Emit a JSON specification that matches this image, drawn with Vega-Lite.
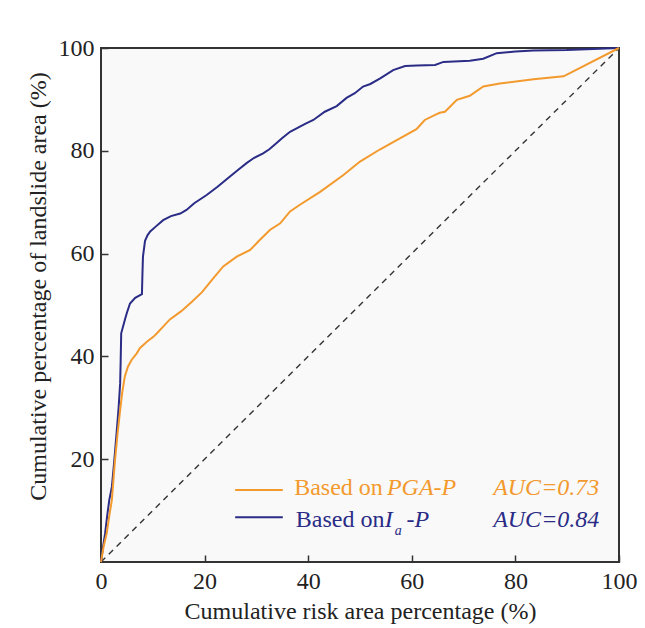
{
  "$schema": "https://vega.github.io/schema/vega-lite/v6.json",
  "width": 518,
  "height": 514,
  "autosize": "none",
  "padding": {"left": 101, "top": 48, "right": 26, "bottom": 66},
  "background": "white",
  "datasets": {
    "curves": [
      {"series": "Ia-P", "x": 0, "y": 0}, {"series": "Ia-P", "x": 0.4, "y": 3}, {"series": "Ia-P", "x": 0.8, "y": 5.6}, {"series": "Ia-P", "x": 1.2, "y": 9}, {"series": "Ia-P", "x": 1.6, "y": 12.1}, {"series": "Ia-P", "x": 2.1, "y": 14.6}, {"series": "Ia-P", "x": 2.5, "y": 19}, {"series": "Ia-P", "x": 3.0, "y": 25}, {"series": "Ia-P", "x": 3.4, "y": 30}, {"series": "Ia-P", "x": 3.7, "y": 34.8}, {"series": "Ia-P", "x": 3.8, "y": 39.3}, {"series": "Ia-P", "x": 3.9, "y": 44.5}, {"series": "Ia-P", "x": 4.6, "y": 47.1}, {"series": "Ia-P", "x": 5.0, "y": 48.5}, {"series": "Ia-P", "x": 5.6, "y": 50.3}, {"series": "Ia-P", "x": 6.6, "y": 51.4}, {"series": "Ia-P", "x": 7.9, "y": 52.1}, {"series": "Ia-P", "x": 8.0, "y": 56}, {"series": "Ia-P", "x": 8.1, "y": 59.4}, {"series": "Ia-P", "x": 8.5, "y": 62.5}, {"series": "Ia-P", "x": 9.0, "y": 63.6}, {"series": "Ia-P", "x": 9.5, "y": 64.3}, {"series": "Ia-P", "x": 10.5, "y": 65.2}, {"series": "Ia-P", "x": 12.0, "y": 66.5}, {"series": "Ia-P", "x": 13.5, "y": 67.3}, {"series": "Ia-P", "x": 15.3, "y": 67.8}, {"series": "Ia-P", "x": 16.5, "y": 68.5}, {"series": "Ia-P", "x": 18.0, "y": 69.8}, {"series": "Ia-P", "x": 20.4, "y": 71.4}, {"series": "Ia-P", "x": 22.5, "y": 73.0}, {"series": "Ia-P", "x": 24.9, "y": 75.0}, {"series": "Ia-P", "x": 26.5, "y": 76.3}, {"series": "Ia-P", "x": 28.1, "y": 77.6}, {"series": "Ia-P", "x": 29.5, "y": 78.6}, {"series": "Ia-P", "x": 31.3, "y": 79.5}, {"series": "Ia-P", "x": 32.5, "y": 80.3}, {"series": "Ia-P", "x": 33.9, "y": 81.5}, {"series": "Ia-P", "x": 35.0, "y": 82.5}, {"series": "Ia-P", "x": 36.5, "y": 83.7}, {"series": "Ia-P", "x": 38.4, "y": 84.7}, {"series": "Ia-P", "x": 39.5, "y": 85.3}, {"series": "Ia-P", "x": 41.0, "y": 86.0}, {"series": "Ia-P", "x": 43.2, "y": 87.6}, {"series": "Ia-P", "x": 45.5, "y": 88.7}, {"series": "Ia-P", "x": 47.4, "y": 90.3}, {"series": "Ia-P", "x": 49.0, "y": 91.2}, {"series": "Ia-P", "x": 50.6, "y": 92.5}, {"series": "Ia-P", "x": 52.0, "y": 93.0}, {"series": "Ia-P", "x": 53.9, "y": 94.1}, {"series": "Ia-P", "x": 56.4, "y": 95.7}, {"series": "Ia-P", "x": 58.7, "y": 96.5}, {"series": "Ia-P", "x": 61.0, "y": 96.6}, {"series": "Ia-P", "x": 64.5, "y": 96.7}, {"series": "Ia-P", "x": 66.1, "y": 97.3}, {"series": "Ia-P", "x": 71.2, "y": 97.5}, {"series": "Ia-P", "x": 73.8, "y": 97.9}, {"series": "Ia-P", "x": 76.4, "y": 99.0}, {"series": "Ia-P", "x": 80.0, "y": 99.3}, {"series": "Ia-P", "x": 83.5, "y": 99.5}, {"series": "Ia-P", "x": 89.9, "y": 99.6}, {"series": "Ia-P", "x": 95.0, "y": 99.8}, {"series": "Ia-P", "x": 100, "y": 100},
      {"series": "PGA-P", "x": 0, "y": 0}, {"series": "PGA-P", "x": 0.5, "y": 3}, {"series": "PGA-P", "x": 1.1, "y": 5.6}, {"series": "PGA-P", "x": 1.6, "y": 9}, {"series": "PGA-P", "x": 2.1, "y": 12.1}, {"series": "PGA-P", "x": 2.4, "y": 16}, {"series": "PGA-P", "x": 2.7, "y": 19.8}, {"series": "PGA-P", "x": 3.2, "y": 25}, {"series": "PGA-P", "x": 3.7, "y": 29.6}, {"series": "PGA-P", "x": 4.1, "y": 33}, {"series": "PGA-P", "x": 4.6, "y": 36.1}, {"series": "PGA-P", "x": 5.2, "y": 38}, {"series": "PGA-P", "x": 5.9, "y": 39.3}, {"series": "PGA-P", "x": 6.9, "y": 40.6}, {"series": "PGA-P", "x": 7.5, "y": 41.6}, {"series": "PGA-P", "x": 8.8, "y": 42.8}, {"series": "PGA-P", "x": 10.1, "y": 43.8}, {"series": "PGA-P", "x": 10.8, "y": 44.5}, {"series": "PGA-P", "x": 12.0, "y": 45.8}, {"series": "PGA-P", "x": 13.3, "y": 47.2}, {"series": "PGA-P", "x": 15.5, "y": 48.8}, {"series": "PGA-P", "x": 17.5, "y": 50.6}, {"series": "PGA-P", "x": 19.5, "y": 52.5}, {"series": "PGA-P", "x": 21.5, "y": 55.0}, {"series": "PGA-P", "x": 23.6, "y": 57.5}, {"series": "PGA-P", "x": 26.2, "y": 59.4}, {"series": "PGA-P", "x": 28.8, "y": 60.7}, {"series": "PGA-P", "x": 30.5, "y": 62.5}, {"series": "PGA-P", "x": 32.6, "y": 64.6}, {"series": "PGA-P", "x": 34.6, "y": 65.9}, {"series": "PGA-P", "x": 36.5, "y": 68.2}, {"series": "PGA-P", "x": 38.4, "y": 69.5}, {"series": "PGA-P", "x": 42.3, "y": 72.0}, {"series": "PGA-P", "x": 46.8, "y": 75.3}, {"series": "PGA-P", "x": 50.0, "y": 77.9}, {"series": "PGA-P", "x": 53.9, "y": 80.3}, {"series": "PGA-P", "x": 57.7, "y": 82.4}, {"series": "PGA-P", "x": 60.9, "y": 84.2}, {"series": "PGA-P", "x": 62.5, "y": 86.0}, {"series": "PGA-P", "x": 64.5, "y": 87.0}, {"series": "PGA-P", "x": 65.4, "y": 87.4}, {"series": "PGA-P", "x": 66.4, "y": 87.6}, {"series": "PGA-P", "x": 68.7, "y": 89.9}, {"series": "PGA-P", "x": 71.2, "y": 90.7}, {"series": "PGA-P", "x": 73.8, "y": 92.5}, {"series": "PGA-P", "x": 77.0, "y": 93.1}, {"series": "PGA-P", "x": 83.5, "y": 93.9}, {"series": "PGA-P", "x": 89.3, "y": 94.5}, {"series": "PGA-P", "x": 100, "y": 100}
    ],
    "diagonal": [{"x": 0, "y": 0}, {"x": 100, "y": 100}],
    "keys": [
      {"series": "PGA-P", "x": 25.9, "x2": 35.1, "y": 14.0},
      {"series": "Ia-P", "x": 25.9, "x2": 35.1, "y": 8.7}
    ],
    "normalText": [
      {"series": "PGA-P", "x": 37.3, "y": 13.0, "text": "Based on"},
      {"series": "Ia-P", "x": 37.6, "y": 6.9, "text": "Based on"}
    ],
    "italicText": [
      {"series": "PGA-P", "x": 55.2, "y": 13.0, "text": "PGA-P"},
      {"series": "PGA-P", "x": 75.7, "y": 13.0, "text": "AUC=0.73"},
      {"series": "Ia-P", "x": 54.8, "y": 6.9, "text": "I"},
      {"series": "Ia-P", "x": 59.0, "y": 6.9, "text": "-P"},
      {"series": "Ia-P", "x": 75.7, "y": 6.9, "text": "AUC=0.84"}
    ],
    "subText": [
      {"series": "Ia-P", "x": 56.7, "y": 5.2, "text": "a"}
    ]
  },
  "encoding": {
    "x": {"field": "x", "type": "quantitative", "scale": {"domain": [0, 100], "nice": false},
      "axis": {"values": [0, 20, 40, 60, 80, 100], "title": "Cumulative risk area percentage (%)", "labelFlush": false, "labelOverlap": false, "labelPadding": 14, "titlePadding": 6}},
    "y": {"field": "y", "type": "quantitative", "scale": {"domain": [0, 100], "nice": false},
      "axis": {"values": [20, 40, 60, 80, 100], "title": "Cumulative percentage of landslide area (%)", "labelFlush": false, "labelOverlap": false, "labelPadding": 14, "titlePadding": 8, "titleY": 238}},
    "color": {"field": "series", "type": "nominal", "scale": {"domain": ["PGA-P", "Ia-P"], "range": ["#f39a2e", "#2a2c86"]}, "legend": null}
  },
  "layer": [
    {
      "data": {"name": "diagonal"},
      "mark": {"type": "line", "color": "#333333", "strokeDash": [6, 5], "strokeWidth": 1.4},
      "encoding": {"color": {"value": "#333333"}}
    },
    {
      "data": {"name": "curves"},
      "mark": {"type": "line", "strokeWidth": 2, "interpolate": "linear"}
    },
    {
      "data": {"name": "keys"},
      "mark": {"type": "rule", "strokeWidth": 2},
      "encoding": {"x2": {"field": "x2"}}
    },
    {
      "data": {"name": "normalText"},
      "mark": {"type": "text", "align": "left", "baseline": "alphabetic", "font": "Liberation Serif, Times New Roman, serif", "fontSize": 24},
      "encoding": {"text": {"field": "text"}}
    },
    {
      "data": {"name": "italicText"},
      "mark": {"type": "text", "align": "left", "baseline": "alphabetic", "font": "Liberation Serif, Times New Roman, serif", "fontSize": 24, "fontStyle": "italic"},
      "encoding": {"text": {"field": "text"}}
    },
    {
      "data": {"name": "subText"},
      "mark": {"type": "text", "align": "left", "baseline": "alphabetic", "font": "Liberation Serif, Times New Roman, serif", "fontSize": 14, "fontStyle": "italic"},
      "encoding": {"text": {"field": "text"}}
    }
  ],
  "config": {
    "view": {"stroke": "#333333", "strokeWidth": 2, "fill": "#f9f9f9"},
    "axis": {
      "domain": false, "grid": false, "ticks": true, "tickSize": -7, "tickColor": "#333333", "tickWidth": 1.5,
      "labelFont": "Liberation Serif, Times New Roman, serif", "labelFontSize": 24, "labelColor": "#222222",
      "titleFont": "Liberation Serif, Times New Roman, serif", "titleFontSize": 24, "titleFontWeight": "normal", "titleColor": "#222222"
    }
  }
}
